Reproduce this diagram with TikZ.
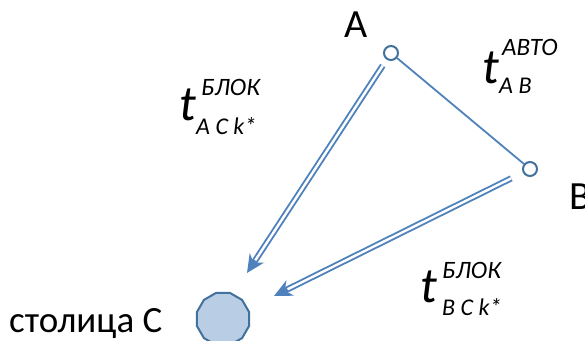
\documentclass[tikz,border=0pt]{standalone}
\usepackage{fontspec}
\setmainfont{Carlito}
\usetikzlibrary{shapes.geometric,arrows.meta,calc}
\definecolor{lnblue}{HTML}{4F81BD}
\definecolor{ptblue}{HTML}{41719C}
\definecolor{capfill}{HTML}{B9CDE5}
\newcommand{\bigT}{\fontsize{50}{56}\selectfont\itshape}
\newcommand{\supT}{\fontsize{25}{30}\selectfont\itshape}
\newcommand{\subT}{\fontsize{24}{28}\selectfont\itshape}
\tikzset{
  townpt/.style={circle, draw=ptblue, line width=2pt, fill=white, minimum size=14pt, inner sep=0pt},
  capitalpt/.style={regular polygon, regular polygon sides=12, draw=ptblue, line width=2pt, fill=capfill, minimum size=54pt, inner sep=0pt},
  dblline/.style={draw=lnblue, double=white, double distance=2.4pt, line width=1.9pt},
  tipline/.style={draw=lnblue, line width=5pt, -{Stealth[length=18pt, width=17pt, inset=6pt]}},
  lbl/.style={anchor=base west, inner sep=0pt}
}
\begin{document}
\begin{tikzpicture}[x=1pt,y=-1pt]
\useasboundingbox (0,0) rectangle (585,340);
% points
\node[townpt] (A) at (391,53) {};
\node[townpt] (B) at (530,169) {};
\node[capitalpt] (C) at (223,319) {};
\coordinate (tipA) at (247,273);
\coordinate (tipB) at (274,296);
% names
\node[lbl, font=\fontsize{40}{46}\selectfont] (nA) at (344,37) {A};
\node[lbl, font=\fontsize{40}{46}\selectfont] (nB) at (569,209) {B};
\node[lbl, font=\fontsize{37}{42}\selectfont] (nC) at (9,332) {столица С};
% road A--B
\draw[lnblue, line width=1.8pt] (A) -- (B);
% rail arrows
\draw[dblline, shorten <=7pt, shorten >=12pt] (A) -- (tipA);
\draw[tipline] ($(tipA)!15pt!(A)$) -- (tipA);
\draw[dblline, shorten <=13pt, shorten >=12pt] (B) -- (tipB);
\draw[tipline] ($(tipB)!15pt!(B)$) -- (tipB);
% times
\node[lbl, font=\bigT] (tAC) at (179,120) {t};
\node[lbl, font=\supT] (tACsup) at (201,95) {БЛОК};
\node[lbl, font=\subT] (tACsub) at (196,134) {A C k*};
\node[lbl, font=\bigT] (tAB) at (482,83) {t};
\node[lbl, font=\supT] (tABsup) at (502,55) {АВТО};
\node[lbl, font=\subT] (tABsub) at (499,93) {A B};
\node[lbl, font=\bigT] (tBC) at (420,302) {t};
\node[lbl, font=\supT] (tBCsup) at (442,278) {БЛОК};
\node[lbl, font=\subT] (tBCsub) at (442,315) {B C k*};
\end{tikzpicture}
\end{document}
